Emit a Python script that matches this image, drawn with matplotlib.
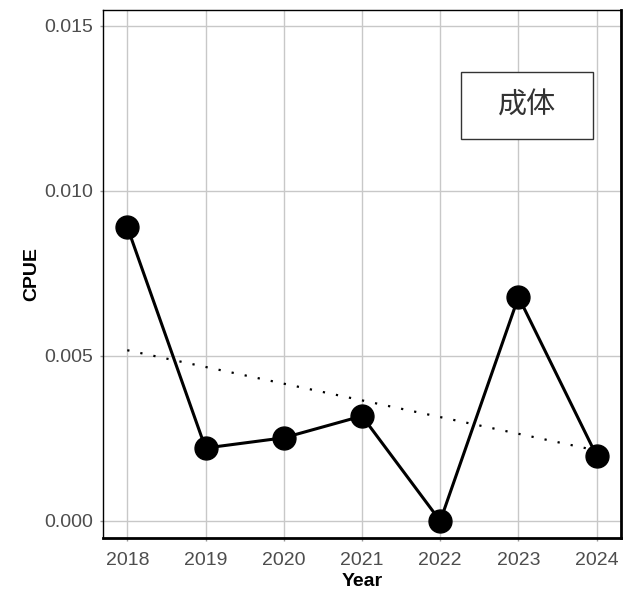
import numpy as np
from matplotlib import pyplot as plt
from matplotlib.patches import Rectangle

years = [2018, 2019, 2020, 2021, 2022, 2023, 2024]
cpue = [0.00891, 0.00221, 0.00252, 0.00318, 0.0, 0.00679, 0.00197]
yticks = [0.000, 0.005, 0.010, 0.015]
ytick_labels = ["0.000", "0.005", "0.010", "0.015"]
label = "成体"

plt.rcParams['font.family'] = ['Liberation Sans', 'DejaVu Sans']

def main():
    fig = plt.figure(figsize=(6.3, 5.89), dpi=100)
    ax = fig.add_axes([103 / 630, 51 / 589, 518 / 630, 528 / 589])

    ax.grid(True, color="#c8c8c8", linewidth=1.0, zorder=0)
    ax.set_axisbelow(True)

    # linear trend
    k, b = np.polyfit(years, cpue, 1)
    trend = [k * x + b for x in years]
    ax.plot([years[0], years[-1]], [trend[0], trend[-1]], color="black",
            linestyle=(0, (1, 5)), linewidth=1.6, zorder=2)

    ax.plot(years, cpue, color="black", linewidth=2.2, marker="o",
            markersize=16.5, zorder=3)

    ax.set_xlim(2017.69, 2024.31)
    ax.set_ylim(-0.000515, 0.01548)
    ax.set_xticks(years)
    ax.set_xticklabels([str(y) for y in years])
    ax.set_yticks(yticks)
    ax.set_yticklabels(ytick_labels)
    ax.tick_params(axis="both", labelsize=14, labelcolor="#4d4d4d",
                   color="#999999", length=2, width=1)
    ax.tick_params(axis="x", pad=8)
    ax.tick_params(axis="y", pad=5)

    ax.spines["top"].set_linewidth(1.0)
    ax.spines["left"].set_linewidth(1.0)
    ax.spines["right"].set_linewidth(2.0)
    ax.spines["bottom"].set_linewidth(2.0)

    ax.set_xlabel("Year", fontsize=14, fontweight="bold", labelpad=3)
    ax.set_ylabel("CPUE", fontsize=14, fontweight="bold", labelpad=3)

    ax.add_patch(Rectangle((0.692, 0.7557), 0.253, 0.1269, transform=ax.transAxes,
                           facecolor="white", edgecolor="#333333",
                           linewidth=1.0, zorder=4))
    ax.text(0.818, 0.819, label, transform=ax.transAxes, ha="center", va="center",
            fontsize=21, color="#333333", family=["Noto Sans CJK JP", "DejaVu Sans"],
            zorder=5)

    fig.savefig("out.png", dpi=100)
    plt.close(fig)

if __name__ == '__main__':
    main()
